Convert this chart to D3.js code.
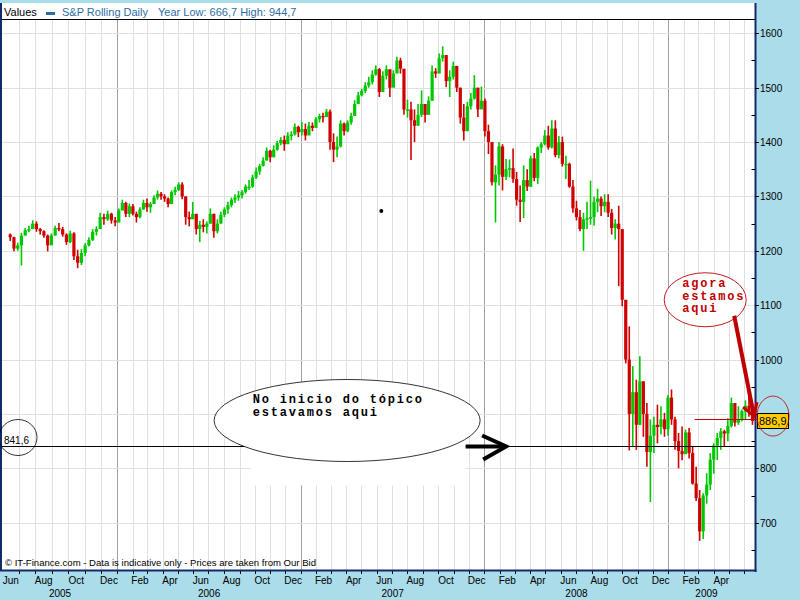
<!DOCTYPE html>
<html><head><meta charset="utf-8">
<script src="https://cdn.jsdelivr.net/npm/d3@7"></script>
<style>body{margin:0;background:#aadcea;} svg{display:block}</style>
</head><body>
<svg id="c" width="800" height="600"></svg>
<script>
// ---- DATA: weekly bars [high, low, close], one per week starting the week of 2005-06-13 ----
const firstWeek = new Date(2005, 5, 13);
const firstOpen = 1230;
const y2005 = [[1232,1218,1225],[1226,1199,1204],[1215,1200,1210],[1233,1173,1228],[1242,1228,1238],[1246,1234,1240],[1256,1240,1250],[1254,1235,1240],[1242,1230,1236],[1238,1224,1228],
[1230,1199,1210],[1232,1212,1228],[1246,1228,1242],[1251,1236,1240],[1244,1226,1230],[1232,1211,1216],[1237,1214,1232],[1234,1183,1190],[1202,1168,1178],[1203,1174,1196],
[1214,1190,1210],[1225,1208,1220],[1240,1218,1235],[1245,1228,1240],[1270,1240,1262],[1268,1248,1258],[1274,1255,1268],[1270,1250,1256],[1262,1245,1252]];
const y2006 = [[1278,1258,1274],[1294,1276,1288],[1290,1262,1268],[1287,1262,1282],[1286,1265,1268],[1272,1252,1262],[1280,1260,1276],[1294,1276,1288],[1296,1272,1280],[1290,1270,1286],
[1302,1286,1298],[1311,1294,1305],[1308,1294,1300],[1304,1290,1296],[1298,1280,1286],[1311,1286,1308],[1318,1302,1312],[1326,1310,1322],[1326,1295,1300],[1300,1248,1262],
[1272,1245,1258],[1290,1260,1268],[1268,1230,1240],[1255,1216,1248],[1258,1234,1244],[1254,1232,1250],[1278,1250,1268],[1268,1224,1236],[1258,1232,1250],[1272,1250,1266],
[1280,1262,1276],[1290,1268,1284],[1298,1280,1294],[1304,1288,1298],[1310,1292,1302],[1312,1296,1308],[1322,1305,1318],[1330,1312,1318],[1340,1316,1335],[1353,1332,1346],
[1360,1340,1356],[1372,1355,1366],[1390,1366,1384],[1386,1363,1372],[1394,1372,1386],[1402,1384,1398],[1409,1394,1404],[1412,1384,1396],[1418,1398,1412],[1420,1403,1414],
[1434,1412,1428],[1430,1409,1418]];
const y2007 = [[1437,1412,1424],[1434,1403,1412],[1437,1415,1430],[1436,1420,1426],[1446,1428,1442],[1452,1436,1448],[1454,1436,1446],[1461,1446,1456],[1460,1386,1400],[1416,1363,1386],
[1410,1372,1392],[1440,1390,1434],[1436,1412,1420],[1440,1418,1436],[1454,1432,1448],[1477,1450,1470],[1492,1472,1486],[1498,1484,1494],[1510,1490,1504],[1520,1500,1510],
[1532,1506,1524],[1541,1522,1534],[1536,1483,1492],[1530,1500,1522],[1541,1515,1534],[1530,1483,1500],[1532,1505,1526],[1557,1530,1550],[1555,1526,1535],[1530,1450,1460],
[1478,1445,1460],[1474,1367,1440],[1460,1400,1430],[1470,1430,1450],[1495,1446,1470],[1470,1436,1450],[1484,1456,1476],[1541,1476,1530],[1536,1518,1526],[1563,1530,1554],
[1576,1548,1560],[1560,1501,1512],[1532,1483,1520],[1548,1515,1540],[1540,1492,1500],[1500,1434,1445],[1470,1403,1420],[1474,1420,1466],[1490,1460,1480],[1523,1478,1500],
[1500,1446,1460],[1502,1462,1476],[1480,1410,1420]];
const y2008 = [[1432,1378,1400],[1400,1320,1326],[1357,1252,1340],[1400,1320,1392],[1396,1311,1336],[1369,1330,1350],[1368,1335,1352],[1388,1325,1332],[1345,1283,1294],[1320,1253,1290],
[1357,1260,1330],[1350,1310,1318],[1375,1318,1370],[1380,1328,1334],[1392,1323,1390],[1400,1380,1396],[1422,1394,1412],[1430,1386,1390],[1440,1388,1425],[1440,1372,1376],
[1411,1370,1400],[1410,1355,1360],[1375,1332,1360],[1362,1316,1318],[1330,1270,1278],[1292,1256,1262],[1275,1236,1240],[1270,1200,1258],[1290,1240,1260],[1329,1248,1262],
[1300,1246,1290],[1314,1271,1296],[1300,1264,1282],[1304,1271,1290],[1304,1262,1270],[1277,1230,1242],[1258,1221,1250],[1283,1135,1240],[1224,1098,1110],[1100,993,1000],
[1061,833,900],[988,840,940],[963,834,880],[1006,880,960],[960,858,900],[920,803,830],[890,738,860],[895,828,880],[917,846,876],[914,862,890],
[902,858,872],[935,860,930]];
const y2009 = [[945,880,890],[895,834,850],[865,800,832],[877,815,826],[871,828,866],[874,818,828],[840,770,772],[803,740,745],[760,666.7,684],[754,670,750],
[791,735,770],[828,760,816],[846,790,842],[865,815,856],[874,834,868],[871,840,864],[892,850,878],[930,875,920],[920,877,884],[914,880,890],
[908,886,905],[925,890,915],[944.7,895,905],[920,880,886.9]];
const yTicks = [650,700,750,800,850,900,950,1000,1050,1100,1150,1200,1250,1300,1350,1400,1450,1500,1550,1600];
const monthNames = ["Jan","Feb","Mar","Apr","May","Jun","Jul","Aug","Sep","Oct","Nov","Dec"];
const years = [2005,2006,2007,2008,2009];
const refLevel = 841.6, lastPrice = 886.9;
const yearLow = "666,7", yearHigh = "944,7";

// ---- SCALES ----
const xs = d3.scaleTime()
  .domain([new Date(2005,5,1), new Date(2006,0,1), new Date(2009,5,24)])
  .range([2.7, 117.3, 756]);
const ys = d3.scaleLinear().domain([700,1600]).range([522.7,33.3]);
const P = {l:2, r:755, t:19, b:570};
const UP = "#00c800", DN = "#d00000", NAVY = "#102a6b";
const SANS = "'Liberation Sans', Arial, sans-serif";
const MONO = "'Liberation Mono', 'Courier New', monospace";

const svg = d3.select("#c");
svg.append("rect").attr("width",800).attr("height",600).attr("fill","#aadcea");
svg.append("rect").attr("x",0).attr("y",3).attr("width",756).attr("height",568).attr("fill","#fff");
svg.append("defs").append("clipPath").attr("id","clip").append("rect")
  .attr("x",P.l).attr("y",P.t).attr("width",P.r-P.l).attr("height",P.b-P.t);

// grid
const grid = svg.append("g").attr("clip-path","url(#clip)");
const months = d3.timeMonth.range(new Date(2005,6,1), new Date(2009,6,1));
grid.selectAll(".vg").data(months).join("line")
  .attr("x1",d=>Math.round(xs(d))+0.5).attr("x2",d=>Math.round(xs(d))+0.5)
  .attr("y1",P.t).attr("y2",P.b)
  .attr("stroke",d=>d.getMonth()===0?"#a0a0a0":"#e0e0e0").attr("stroke-width",1);
grid.selectAll(".hg").data(yTicks.filter(v=>v%100===0)).join("line")
  .attr("x1",P.l).attr("x2",P.r)
  .attr("y1",d=>Math.round(ys(d))+0.5).attr("y2",d=>Math.round(ys(d))+0.5)
  .attr("stroke","#e0e0e0");

// bars
const bars = [];
let idx = 0, prev = firstOpen;
[y2005,y2006,y2007,y2008,y2009].forEach(arr => arr.forEach(([h,l,c]) => {
  bars.push({d: d3.timeDay.offset(firstWeek, 7*idx + 2), h, l, o: prev, c});
  prev = c; idx++;
}));
const bg = svg.append("g").attr("clip-path","url(#clip)");
bg.selectAll(".wick").data(bars).join("line")
  .attr("x1",d=>xs(d.d)).attr("x2",d=>xs(d.d))
  .attr("y1",d=>ys(d.h)).attr("y2",d=>ys(d.l))
  .attr("stroke",d=>d.c>=d.o?UP:DN).attr("stroke-width",1.6);
bg.selectAll(".body").data(bars).join("rect")
  .attr("x",d=>xs(d.d)-1.6).attr("width",3.2)
  .attr("y",d=>ys(Math.max(d.o,d.c)))
  .attr("height",d=>Math.max(1.5,Math.abs(ys(d.o)-ys(d.c))))
  .attr("fill",d=>d.c>=d.o?UP:DN);

// header
svg.append("line").attr("x1",P.l).attr("x2",P.r).attr("y1",19.5).attr("y2",19.5).attr("stroke","#000");
const hdr = svg.append("g").attr("font-family",SANS).attr("font-size",11);
hdr.append("text").attr("x",4).attr("y",16).attr("fill","#000").text("Values");
hdr.append("rect").attr("x",46).attr("y",12).attr("width",9).attr("height",3).attr("fill","#2e6ca4");
hdr.append("text").attr("x",62).attr("y",16).attr("fill","#2e6ca4").text("S&P Rolling Daily");
hdr.append("text").attr("x",158).attr("y",16).attr("fill","#2e6ca4").text(`Year Low: ${yearLow} High: ${yearHigh}`);

// footer
svg.append("text").attr("x",5).attr("y",566).attr("font-family",SANS).attr("font-size",9)
  .attr("textLength",311).attr("lengthAdjust","spacingAndGlyphs")
  .text("\u00A9 IT-Finance.com - Data is indicative only - Prices are taken from Our Bid");

// borders
svg.append("line").attr("x1",1).attr("x2",1).attr("y1",3).attr("y2",571).attr("stroke",NAVY).attr("stroke-width",2);
svg.append("line").attr("x1",755.5).attr("x2",755.5).attr("y1",3).attr("y2",572).attr("stroke",NAVY).attr("stroke-width",2);
svg.append("line").attr("x1",0).attr("x2",756.5).attr("y1",570.5).attr("y2",570.5).attr("stroke",NAVY).attr("stroke-width",2);

// right axis (the label hidden under the last-price box is not drawn)
const yLast = ys(lastPrice);
const ax = svg.append("g").attr("font-family",SANS).attr("font-size",10);
yTicks.forEach(v => {
  const y = Math.round(ys(v)) + 0.5;
  if (v % 100 === 0) {
    ax.append("line").attr("x1",755).attr("x2",759).attr("y1",y).attr("y2",y).attr("stroke","#000");
    if (Math.abs(y - yLast) > 12) ax.append("text").attr("x",760).attr("y",y+3.5).text(v);
  } else {
    ax.append("line").attr("x1",751.5).attr("x2",755).attr("y1",y).attr("y2",y).attr("stroke","#000");
  }
});

// bottom axis
const bx = svg.append("g").attr("font-family",SANS).attr("font-size",10).attr("text-anchor","middle");
months.forEach(m => {
  const x = Math.round(xs(m)) + 0.5;
  bx.append("line").attr("x1",x).attr("x2",x).attr("y1",571).attr("y2",574).attr("stroke","#000");
});
d3.timeMonth.range(new Date(2005,5,1), new Date(2009,4,1)).filter(m=>m.getMonth()%2===1).forEach(m => {
  const x = (xs(m) + xs(d3.timeMonth.offset(m,1))) / 2;
  bx.append("text").attr("x",x).attr("y",584).text(monthNames[m.getMonth()]);
});
years.forEach(yr => {
  const a = Math.max(+new Date(yr,0,1), +new Date(2005,5,1));
  const b = Math.min(+new Date(yr+1,0,1), +new Date(2009,5,1));
  bx.append("text").attr("x",(xs(new Date(a))+xs(new Date(b)))/2).attr("y",597).text(yr);
});

// ---- annotations ----
const an = svg.append("g");
const yRef = Math.round(ys(refLevel)) + 0.5;
an.append("line").attr("x1",P.l).attr("x2",P.r).attr("y1",yRef).attr("y2",yRef).attr("stroke","#000");
an.append("ellipse").attr("cx",P.l+16).attr("cy",yRef-9).attr("rx",19).attr("ry",18)
  .attr("fill","none").attr("stroke","#000").attr("stroke-width",0.8);
an.append("text").attr("x",4).attr("y",yRef-3).attr("font-family",SANS).attr("font-size",10).text("841,6");
an.append("circle").attr("cx",xs(new Date(2007,5,10))).attr("cy",ys(1273)).attr("r",2).attr("fill","#000");
// big note
const n1x = xs(new Date(2007,3,3));
an.append("rect").attr("x",n1x-96.5).attr("y",yRef-16).attr("width",215).attr("height",55).attr("fill","#fff");
an.append("ellipse").attr("cx",n1x).attr("cy",yRef-26).attr("rx",133).attr("ry",41)
  .attr("fill","#fff").attr("stroke","#000").attr("stroke-width",0.8);
const t1 = an.append("g").attr("font-family",MONO).attr("font-weight","bold").attr("font-size",12)
  .attr("letter-spacing","1.8px").attr("fill","#000");
t1.append("text").attr("x",n1x-94.5).attr("y",yRef-44).text("No inicio do tópico");
t1.append("text").attr("x",n1x-94.5).attr("y",yRef-31).text("estavamos aqui");
// black arrow
an.append("line").attr("x1",n1x+118.5).attr("x2",n1x+158).attr("y1",yRef).attr("y2",yRef)
  .attr("stroke","#000").attr("stroke-width",4);
an.append("polyline").attr("points",`${n1x+135},${yRef-11} ${n1x+159},${yRef} ${n1x+136},${yRef+13}`)
  .attr("fill","none").attr("stroke","#000").attr("stroke-width",4).attr("stroke-linejoin","miter");

// last price line, label, red note
an.append("line").attr("x1",xs(new Date(2009,1,22))).attr("x2",757).attr("y1",Math.round(yLast)-1.5).attr("y2",Math.round(yLast)-1.5)
  .attr("stroke","#c00000").attr("stroke-width",1);
const n2x = xs(new Date(2009,2,15)), n2y = ys(1110);
an.append("ellipse").attr("cx",n2x).attr("cy",n2y).attr("rx",41).attr("ry",27)
  .attr("fill","#fff").attr("stroke","#c00000").attr("stroke-width",0.9);
const t2 = an.append("g").attr("font-family",MONO).attr("font-weight","bold").attr("font-size",12)
  .attr("letter-spacing","1.8px").attr("fill","#c00000");
t2.append("text").attr("x",n2x-23).attr("y",n2y-13).text("agora");
t2.append("text").attr("x",n2x-23).attr("y",n2y).text("estamos");
t2.append("text").attr("x",n2x-23).attr("y",n2y+12.5).text("aqui");
const tipX = 754, tipY = yLast - 5;
an.append("line").attr("x1",n2x+29).attr("y1",n2y+16).attr("x2",tipX).attr("y2",tipY)
  .attr("stroke","#c00000").attr("stroke-width",4);
an.append("polyline").attr("points",`${tipX-11},${tipY-9} ${tipX},${tipY} ${tipX+3},${tipY-14}`)
  .attr("fill","none").attr("stroke","#c00000").attr("stroke-width",3);
an.append("rect").attr("x",757.5).attr("y",Math.round(yLast)-7.5).attr("width",31).attr("height",15)
  .attr("fill","#ffcc00").attr("stroke","#000").attr("stroke-width",1);
an.append("text").attr("x",759).attr("y",Math.round(yLast)+4).attr("font-family",SANS).attr("font-size",11)
  .text(String(lastPrice).replace(".",","));
an.append("ellipse").attr("cx",773).attr("cy",yLast-5).attr("rx",16).attr("ry",20)
  .attr("fill","none").attr("stroke","#c00000").attr("stroke-width",0.8);
</script>
</body></html>
